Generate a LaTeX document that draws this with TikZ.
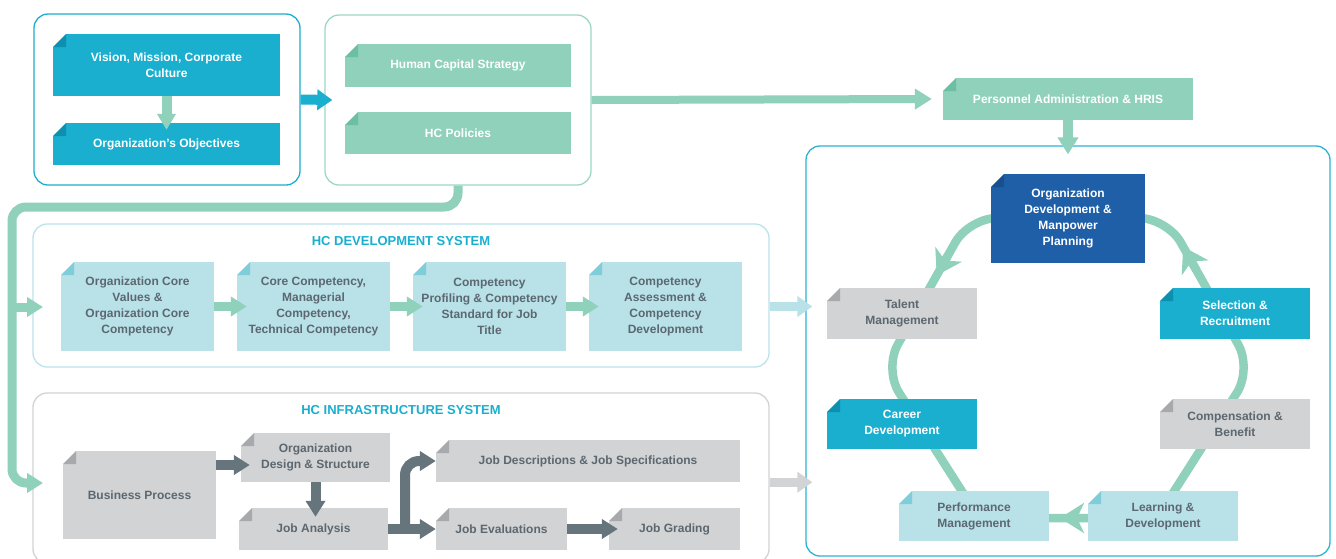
\documentclass[tikz,border=0pt]{standalone}
\usepackage{fontspec}
\setmainfont{Liberation Sans}
\usetikzlibrary{arrows.meta,calc}
\definecolor{hcCyan}{HTML}{1AAFCF}
\definecolor{hcCyanD}{HTML}{0D8FAF}
\definecolor{hcGreen}{HTML}{8FD1BA}
\definecolor{hcGreenD}{HTML}{6DBFA4}
\definecolor{hcBlue}{HTML}{1F5FA8}
\definecolor{hcBlueD}{HTML}{184F8E}
\definecolor{hcLight}{HTML}{B8E2E8}
\definecolor{hcLightD}{HTML}{7FCDD9}
\definecolor{hcGray}{HTML}{D1D3D4}
\definecolor{hcGrayD}{HTML}{A7A9AC}
\definecolor{hcText}{HTML}{5C6770}
\definecolor{hcDark}{HTML}{66747B}
\definecolor{hcGreenL}{HTML}{9ED8C4}
\definecolor{hcCyanL}{HTML}{2BB3D3}
\definecolor{hcLightL}{HTML}{BCE3EA}
\newcommand\boxfont{\fontsize{12}{16}\selectfont\bfseries}
\newcommand\titlefont{\fontsize{13}{15}\selectfont\bfseries}
\begin{document}
\begin{tikzpicture}[x=1pt, y=-1pt,
  cont/.style={draw=#1, line width=1.3pt, rounded corners=14pt, inner sep=0pt},
  paper/.style 2 args={rectangle, inner sep=2pt, fill=#1, align=center, font=\boxfont,
    path picture={
      \fill[white] (path picture bounding box.north west) -- ++(13pt,0pt) -- ++(-13pt,-13pt) -- cycle;
      \fill[#2] ([xshift=13pt]path picture bounding box.north west) -- ++(0pt,-13pt) -- ++(-13pt,0pt) -- cycle;}},
  cyanbox/.style={paper={hcCyan}{hcCyanD}, text=white},
  greenbox/.style={paper={hcGreen}{hcGreenD}, text=white},
  bluebox/.style={paper={hcBlue}{hcBlueD}, text=white},
  lightbox/.style={paper={hcLight}{hcLightD}, text=hcText},
  graybox/.style={paper={hcGray}{hcGrayD}, text=hcText},
  sz/.style 2 args={minimum width=#1pt, minimum height=#2pt},
  systitle/.style={font=\titlefont, text=hcCyan, inner sep=0pt},
  loopline/.style={draw=hcGreen, line width=8.5pt},
  looptip/.style={-{Stealth[width=30pt,length=24pt,inset=7pt]}},
  arr/.style={line width=#1, -{Triangle[width=19pt,length=16pt]}},
]
\useasboundingbox (0,0) rectangle (1336,558);
\clip (0,0) rectangle (1336,558);
\fill[white] (0,0) rectangle (1336,558);

% containers
\node[cont=hcCyan, sz={266}{171}] (c1) at (167,99.5) {};
\node[cont=hcGreenL, sz={266}{170}] (c2) at (458,100) {};
\node[cont=hcCyanL, sz={524}{410}] (c3) at (1068,351) {};
\node[cont=hcLightL, sz={736}{143}] (c4) at (401,295.5) {};
\node[cont=hcGray, sz={736}{170}] (c5) at (401,478) {};

\node[systitle] (devtitle) at (401,241) {HC DEVELOPMENT SYSTEM};
\node[systitle] (inftitle) at (401,410) {HC INFRASTRUCTURE SYSTEM};

% cycle loop
\coordinate (TL) at (969,218);
\coordinate (TR) at (1167,218);
\coordinate (R) at (1252,369);
\coordinate (BR) at (1157,518);
\coordinate (BL) at (979,518);
\coordinate (L) at (884,369);
\coordinate (TM) at (1068,218);
\draw[loopline, rounded corners=28pt] (TM) -- (TR) -- (R) -- (BR) -- (BL) -- (L) -- (TL) -- cycle;
\draw[loopline, looptip] ($(TL)!0.25!(L)$) -- ($(TL)!0.38!(L)$);
\draw[loopline, looptip] ($(R)!0.66!(TR)$) -- ($(R)!0.81!(TR)$);
\draw[loopline, looptip] ($(BR)!0.38!(BL)$) -- ($(BR)!0.545!(BL)$);

% top boxes
\node[cyanbox, sz={227}{62}] (vision) at (166.5,65) {Vision, Mission, Corporate\\Culture};
\node[cyanbox, sz={227}{42}] (obj) at (166.5,144) {Organization’s Objectives};
\node[greenbox, sz={226}{43}] (hcs) at (458,65.5) {Human Capital Strategy};
\node[greenbox, sz={226}{42}] (hcp) at (458,133) {HC Policies};
\node[greenbox, sz={250}{42}] (pa) at (1068,99) {Personnel Administration \& HRIS};

% cycle boxes
\node[bluebox, sz={154}{89}] (od) at (1068,218.5) {Organization\\Development \&\\Manpower\\Planning};
\node[graybox, sz={150}{51}] (tm) at (902,313.5) {Talent\\Management};
\node[cyanbox, sz={150}{51}] (sr) at (1235,313.5) {Selection \&\\Recruitment};
\node[cyanbox, sz={150}{50}] (cd) at (902,424) {Career\\Development};
\node[graybox, sz={150}{50}] (cb) at (1235,424) {Compensation \&\\Benefit};
\node[lightbox, sz={150}{50}] (pm) at (974,516) {Performance\\Management};
\node[lightbox, sz={150}{50}] (ld) at (1163,516) {Learning \&\\Development};

% development boxes
\node[lightbox, sz={153}{89}] (d1) at (137.5,306.5) {Organization Core\\Values \&\\Organization Core\\Competency};
\node[lightbox, sz={153}{89}] (d2) at (313.5,306.5) {Core Competency,\\Managerial\\Competency,\\Technical Competency};
\node[lightbox, sz={153}{89}] (d3) at (489.5,306.5) {Competency\\Profiling \& Competency\\Standard for Job\\Title};
\node[lightbox, sz={153}{89}] (d4) at (665.5,306.5) {Competency\\Assessment \&\\Competency\\Development};

% infrastructure boxes
\node[graybox, sz={153}{88}] (i1) at (139.5,495) {Business Process};
\node[graybox, sz={149}{49}] (i2) at (315.5,457.5) {Organization\\Design \& Structure};
\node[graybox, sz={149}{42}] (i3) at (313.5,529) {Job Analysis};
\node[graybox, sz={304}{42}] (i4) at (588,461) {Job Descriptions \& Job Specifications};
\node[graybox, sz={131}{42}] (i5) at (501.5,529) {Job Evaluations};
\node[graybox, sz={131}{42}] (i6) at (674.5,529) {Job Grading};

% connectors: top
\draw[hcGreen, line width=10pt, -{Triangle[width=18pt,length=16pt]}] (vision.south) -- ([yshift=-7pt]obj.north);
\draw[hcCyan, line width=10pt, -{Triangle[width=20pt,length=15pt]}] (c1.east) -- ([xshift=8pt]c2.west);
\draw[hcGreen, line width=8pt, -{Triangle[width=20pt,length=17pt]}] (c2.east) -- ([xshift=-11pt]pa.west);
\draw[hcGreen, line width=10pt, -{Triangle[width=20pt,length=17pt]}] (pa.south) -- ([yshift=-9pt]c3.north);

% big green feed line
\coordinate (bendA) at (12,207);
\coordinate (bendB) at (12,483);
\coordinate (infin) at (43,483);
\coordinate (branch) at (12,307);
\coordinate (devin) at (43,307);
\draw[hcGreen, arr=9pt, rounded corners=14pt] (c2.south) |- (bendA) -- (bendB) -- (infin);
\draw[hcGreen, arr=9pt] (branch) -- (devin);

% development arrows
\draw[hcGreen, arr=9pt] (d1.east) -- ([xshift=10pt]d2.west);
\draw[hcGreen, arr=9pt] (d2.east) -- ([xshift=10pt]d3.west);
\draw[hcGreen, arr=9pt] (d3.east) -- ([xshift=10pt]d4.west);
\draw[hcLight, line width=9pt, -{Triangle[width=20pt,length=15pt]}] (c4.east |- d4.east) -- ([xshift=7pt]c3.west |- d4.east);

% infrastructure arrows
\coordinate (bpout) at ([yshift=30pt]i1.east);
\draw[hcDark, arr=10pt] (bpout) -- ([xshift=9pt]i2.west |- bpout);
\draw[hcDark, arr=10pt] (i2.south) -- ([yshift=-9pt]i3.north -| i2.south);
\coordinate (fork) at (405,529);
\draw[hcDark, arr=10pt] (i3.east) -- (i5.west);
\draw[hcDark, arr=10pt, rounded corners=14pt] (fork) |- (i4.west);
\draw[hcDark, arr=10pt] (i5.east) -- ([xshift=9pt]i6.west);
\draw[hcGray, line width=9pt, -{Triangle[width=20pt,length=15pt]}] (c5.east |- i4.south) -- ([xshift=7pt]c3.west |- i4.south);
\end{tikzpicture}
\end{document}
